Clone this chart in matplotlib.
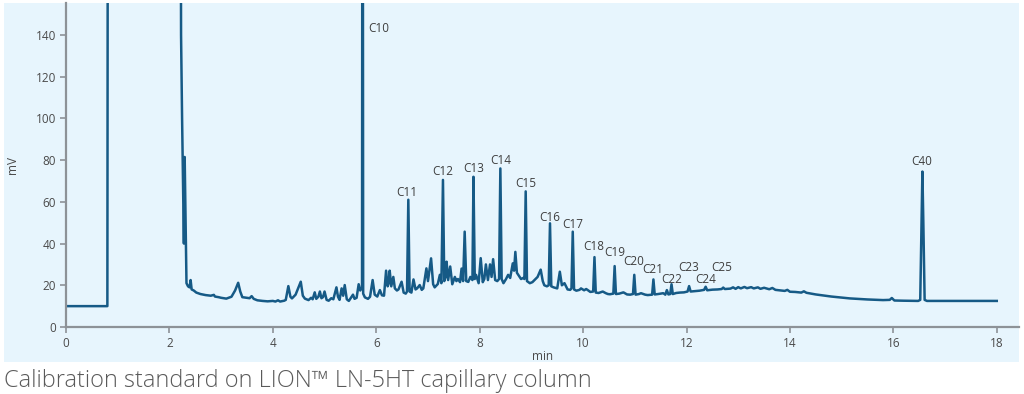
import matplotlib
matplotlib.use("Agg")
import matplotlib.pyplot as plt
from matplotlib.patches import Rectangle

# ---- data ----
time_min = [0, 0.80, 0.815, 2.205, 2.225, 2.245, 2.28, 2.295, 2.33, 2.36, 2.39, 2.41, 2.43, 2.47, 2.52,
            2.6, 2.7, 2.8, 2.86, 2.88, 2.95, 3.0, 3.1, 3.2, 3.27, 3.33, 3.37, 3.41, 3.5, 3.55,
            3.59, 3.63, 3.7, 3.8, 3.9, 4.0, 4.05, 4.1, 4.14, 4.22, 4.25, 4.30, 4.34, 4.37,
            4.44, 4.54, 4.58, 4.62, 4.69, 4.74, 4.77, 4.81, 4.84, 4.88, 4.91, 4.94, 4.97,
            5.0, 5.04, 5.08, 5.13, 5.17, 5.23, 5.26, 5.29, 5.33, 5.36, 5.39, 5.43, 5.47,
            5.51, 5.55, 5.58, 5.62, 5.66, 5.69, 5.725, 5.735, 5.747, 5.78, 5.84, 5.88, 5.93,
            5.97, 6.02, 6.07, 6.11, 6.15, 6.19, 6.22, 6.24, 6.26, 6.29, 6.33, 6.36, 6.40,
            6.43, 6.49, 6.53, 6.57, 6.595, 6.62, 6.645, 6.68, 6.72, 6.76, 6.79, 6.84, 6.88,
            6.91, 6.97, 7.0, 7.06, 7.10, 7.13, 7.19, 7.23, 7.26, 7.29, 7.315, 7.34, 7.36,
            7.39, 7.43, 7.47, 7.52, 7.55, 7.58, 7.62, 7.65, 7.68, 7.71, 7.74, 7.78, 7.82,
            7.86, 7.88, 7.905, 7.93, 7.98, 8.02, 8.06, 8.09, 8.12, 8.16, 8.20, 8.23, 8.26,
            8.30, 8.34, 8.375, 8.40, 8.425, 8.46, 8.51, 8.55, 8.59, 8.64, 8.665, 8.69, 8.72,
            8.76, 8.80, 8.84, 8.865, 8.89, 8.915, 8.97, 9.02, 9.06, 9.12, 9.18, 9.22, 9.25,
            9.30, 9.335, 9.36, 9.385, 9.43, 9.50, 9.55, 9.59, 9.64, 9.70, 9.75, 9.775, 9.80,
            9.825, 9.87, 9.93, 9.96, 10.02, 10.06, 10.09, 10.14, 10.195, 10.22, 10.245,
            10.30, 10.38, 10.44, 10.48, 10.52, 10.585, 10.61, 10.635, 10.70, 10.78, 10.85,
            10.91, 10.965, 10.99, 11.015, 11.08, 11.12, 11.2, 11.25, 11.335, 11.36, 11.385,
            11.45, 11.55, 11.59, 11.62, 11.65, 11.685, 11.71, 11.735, 11.8, 11.87, 11.95,
            12.02, 12.05, 12.08, 12.17, 12.25, 12.34, 12.37, 12.40, 12.5, 12.6, 12.68,
            12.71, 12.74, 12.85, 12.9, 12.95, 13.0, 13.05, 13.12, 13.17, 13.25, 13.3, 13.38,
            13.43, 13.5, 13.6, 13.66, 13.72, 13.8, 13.9, 13.95, 14.0, 14.1, 14.22, 14.27,
            14.32, 14.5, 14.8, 15.16, 15.5, 15.8, 15.93, 15.97, 16.02, 16.2, 16.48, 16.52,
            16.545, 16.562, 16.58, 16.605, 16.65, 17.0, 17.5, 18.0]
signal_mv = [10, 10, 400, 400, 140, 100, 40, 81.5, 21, 19.5, 19, 22.5, 18, 17.5, 16.5,
             15.8, 15.3, 15.0, 15.4, 14.6, 14.3, 14.0, 13.6, 14.5, 17.5, 21.2, 17, 14.3, 14.0, 13.8,
             14.8, 13.5, 12.8, 12.5, 12.3, 12.5, 12.2, 12.8, 12.2, 12.6, 13, 19.6, 14.5, 13.7,
             15.5, 21.7, 15, 13.6, 12.9, 14, 13.3, 16.6, 13.5, 14.5, 17, 13.8, 14.3,
             17, 13, 12.6, 13.8, 13.3, 19, 14.5, 13, 18.5, 15, 20.1, 13.3, 12.5,
             14, 15.5, 13.5, 14, 20.5, 17.5, 19, 400, 16, 14.2, 13.5, 14.5, 22.5,
             15.5, 14.6, 17.7, 15.2, 15, 27, 19.5, 21, 27, 19.5, 24, 18.5, 17.5,
             18, 21.7, 16.5, 16, 17, 61, 17, 16.5, 22.8, 18, 18.5, 20.1, 17.8,
             18.5, 28.1, 22, 32.9, 20.5, 19, 20.6, 25, 21, 70.5, 22, 24, 31.3,
             22.5, 29, 20.5, 24, 22, 23, 21.5, 28, 22, 45.7, 22, 21.6, 24,
             22.5, 72, 23, 25, 21, 33, 21.5, 23, 30, 22.5, 30, 24, 32.5,
             22.5, 22, 23, 76, 23, 21, 23, 25, 23.5, 30.5, 27, 36, 26,
             24.5, 23, 23.5, 23, 65, 22, 21, 21.5, 22.5, 24, 27.5, 22, 20,
             19.5, 20, 49.7, 19.5, 19, 18.5, 26.5, 20, 21, 18, 17.8, 18.5, 45.7,
             18, 17.4, 17.8, 18.5, 17.6, 18.2, 17.7, 16.8, 17, 33.5, 16.5,
             16.3, 17, 16.2, 15.8, 15.7, 16, 29.2, 15.8, 16, 16.6, 15.6,
             15.5, 15.8, 25, 15.5, 15.8, 16.2, 15.5, 15.3, 15.5, 22.8, 15.6,
             15.8, 16.2, 15.5, 17.7, 15.6, 15.8, 20.5, 15.8, 16.3, 16.5, 16.6,
             17, 19.6, 17, 17.2, 17.4, 17.8, 19.3, 17.6, 17.9, 18, 18.2,
             18.9, 18.2, 18.4, 19.0, 18.3, 19.1, 18.5, 19.2, 18.6, 19.1, 18.5, 19.0,
             18.3, 18.8, 18.1, 18.7, 17.8, 17.6, 17.3, 17.8, 16.9, 16.8, 16.5, 17.1,
             16.4, 15.6, 14.6, 13.7, 13.2, 12.9, 13, 13.9, 12.7, 12.6, 12.5, 13,
             50, 74.5, 50, 13, 12.5, 12.5, 12.5, 12.5]

peak_names = ["C10", "C11", "C12", "C13", "C14", "C15", "C16", "C17", "C18",
              "C19", "C20", "C21", "C22", "C23", "C24", "C25", "C40"]
label_time = [6.05, 6.59, 7.29, 7.89, 8.41, 8.89, 9.36, 9.80, 10.21,
              10.61, 10.98, 11.35, 11.72, 12.05, 12.37, 12.68, 16.54]
label_mv = [143.3, 64.7, 74.3, 76.2, 79.6, 68.6, 52.7, 48.9, 38.4,
            35.5, 31.2, 27.8, 23.0, 28.3, 23.0, 28.3, 79.2]

x_ticks = [0, 2, 4, 6, 8, 10, 12, 14, 16, 18]
y_ticks = [0, 20, 40, 60, 80, 100, 120, 140]
caption = "Calibration standard on LION\u2122 LN-5HT capillary column"

# ---- styling ----
plt.rcParams['font.family'] = ['Open Sans', 'DejaVu Sans']
W, H = 1024, 394
fig = plt.figure(figsize=(W / 100, H / 100), dpi=100, facecolor="white")

panel_bg = "#e7f5fd"
panel = Rectangle((4 / W, 1 - 362 / H), (1019 - 4) / W, (362 - 3) / H,
                  transform=fig.transFigure, facecolor=panel_bg,
                  edgecolor="none", zorder=-10)
fig.add_artist(panel)

ax = fig.add_axes([66 / W, 1 - 327 / H, (1019 - 66) / W, (327 - 3) / H])
ax.set_zorder(1)
ax.set_facecolor("none")
line_color = "#165a86"
ax.plot(time_min, signal_mv, color=line_color, lw=1.8, solid_joinstyle="round")

ax.set_xlim(0, 18.43)
ax.set_ylim(0, 155.3)
ax.set_xticks(x_ticks)
ax.set_yticks(y_ticks)

spine_c = "#8d9297"
for s in ["top", "right"]:
    ax.spines[s].set_visible(False)
for s in ["left", "bottom"]:
    ax.spines[s].set_color(spine_c)
    ax.spines[s].set_linewidth(1.6)
ax.tick_params(axis="both", colors=spine_c, labelcolor="#4a4a4a", labelsize=8.5,
               length=4, width=1.2, pad=3)

ax.set_xlabel("min", fontsize=8.5, color="#4a4a4a", labelpad=0)
ax.set_ylabel("mV", fontsize=8.5, color="#4a4a4a", labelpad=12)

for name, t, v in zip(peak_names, label_time, label_mv):
    ax.text(t, v, name, ha="center", va="center", fontsize=8.5, color="#3e3e3e")

fig.text(4 / W, 1 - 381 / H, caption, fontsize=16.9, color="#5a5a5a",
         ha="left", va="center", fontweight="light")

fig.savefig("out.png", dpi=100, facecolor="white")
